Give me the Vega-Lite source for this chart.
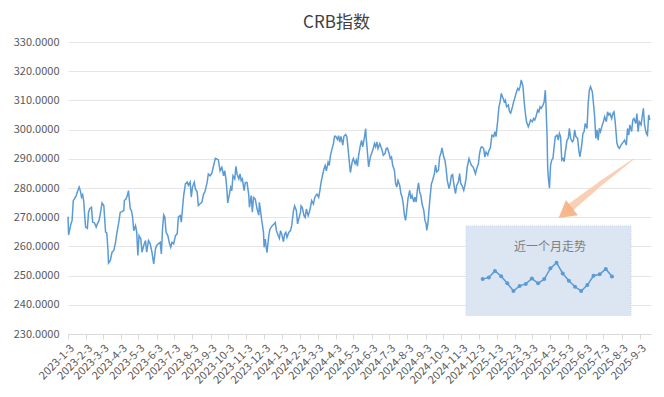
{
  "$schema": "https://vega.github.io/schema/vega-lite/v6.json",
  "autosize": {"type": "none"},
  "width": 583,
  "height": 292,
  "padding": {"left": 68, "top": 42, "right": 13, "bottom": 63},
  "background": "#ffffff",
  "title": {
    "text": "CRB指数",
    "font": "Noto Sans CJK SC",
    "fontSize": 17,
    "fontWeight": "normal",
    "color": "#404040",
    "anchor": "middle",
    "dx": -23,
    "offset": 4
  },
  "config": {
    "view": {"stroke": null},
    "font": "Noto Sans CJK SC"
  },
  "datasets": {
    "crb": [
      {"date":"2023-01-03","value":270.2},{"date":"2023-01-04","value":263.9},{"date":"2023-01-08","value":267.7},{"date":"2023-01-10","value":268.9},{"date":"2023-01-12","value":275.7},{"date":"2023-01-14","value":276.3},{"date":"2023-01-17","value":277.4},{"date":"2023-01-19","value":278.6},{"date":"2023-01-22","value":280.3},{"date":"2023-01-24","value":279.1},{"date":"2023-01-26","value":276.9},{"date":"2023-01-28","value":277.7},{"date":"2023-01-30","value":275.1},{"date":"2023-01-31","value":271.7},
      {"date":"2023-02-02","value":266.6},{"date":"2023-02-05","value":266.2},{"date":"2023-02-07","value":271.7},{"date":"2023-02-09","value":272.9},{"date":"2023-02-12","value":273.4},{"date":"2023-02-14","value":268.3},{"date":"2023-02-17","value":268.1},{"date":"2023-02-20","value":266.6},{"date":"2023-02-22","value":267.7},{"date":"2023-02-25","value":268.9},{"date":"2023-02-28","value":272.3},
      {"date":"2023-03-02","value":274.9},{"date":"2023-03-05","value":274.0},{"date":"2023-03-08","value":264.9},{"date":"2023-03-10","value":264.6},{"date":"2023-03-12","value":259.1},{"date":"2023-03-13","value":254.3},{"date":"2023-03-16","value":255.1},{"date":"2023-03-19","value":258.0},{"date":"2023-03-22","value":258.6},{"date":"2023-03-25","value":261.4},{"date":"2023-03-27","value":264.3},{"date":"2023-03-30","value":267.7},
      {"date":"2023-04-02","value":271.7},{"date":"2023-04-05","value":271.9},{"date":"2023-04-08","value":272.3},{"date":"2023-04-09","value":275.7},{"date":"2023-04-12","value":276.3},{"date":"2023-04-14","value":277.4},{"date":"2023-04-16","value":279.1},{"date":"2023-04-19","value":272.9},{"date":"2023-04-21","value":272.3},{"date":"2023-04-23","value":270.0},{"date":"2023-04-25","value":265.4},{"date":"2023-04-28","value":267.1},{"date":"2023-04-30","value":264.9},
      {"date":"2023-05-02","value":256.9},{"date":"2023-05-04","value":263.7},{"date":"2023-05-07","value":262.6},{"date":"2023-05-09","value":258.0},{"date":"2023-05-12","value":260.3},{"date":"2023-05-15","value":262.0},{"date":"2023-05-17","value":258.0},{"date":"2023-05-20","value":262.0},{"date":"2023-05-23","value":260.9},{"date":"2023-05-26","value":258.0},{"date":"2023-05-29","value":254.0},
      {"date":"2023-06-01","value":259.1},{"date":"2023-06-03","value":260.3},{"date":"2023-06-06","value":260.9},{"date":"2023-06-09","value":261.4},{"date":"2023-06-11","value":257.4},{"date":"2023-06-13","value":266.0},{"date":"2023-06-15","value":270.8},{"date":"2023-06-17","value":270.0},{"date":"2023-06-19","value":264.9},{"date":"2023-06-22","value":263.7},{"date":"2023-06-25","value":260.9},{"date":"2023-06-27","value":259.7},{"date":"2023-06-29","value":261.4},
      {"date":"2023-07-02","value":260.9},{"date":"2023-07-05","value":263.7},{"date":"2023-07-08","value":264.3},{"date":"2023-07-10","value":270.0},{"date":"2023-07-13","value":270.6},{"date":"2023-07-15","value":268.3},{"date":"2023-07-17","value":272.9},{"date":"2023-07-19","value":277.4},{"date":"2023-07-22","value":281.4},{"date":"2023-07-25","value":282.0},{"date":"2023-07-27","value":280.9},{"date":"2023-07-30","value":282.0},
      {"date":"2023-08-01","value":276.9},{"date":"2023-08-03","value":280.3},{"date":"2023-08-06","value":282.0},{"date":"2023-08-08","value":279.7},{"date":"2023-08-11","value":278.6},{"date":"2023-08-13","value":274.0},{"date":"2023-08-16","value":274.6},{"date":"2023-08-19","value":275.1},{"date":"2023-08-22","value":278.0},{"date":"2023-08-24","value":278.6},{"date":"2023-08-28","value":281.9},{"date":"2023-08-30","value":284.8},
      {"date":"2023-09-02","value":284.2},{"date":"2023-09-05","value":285.1},{"date":"2023-09-08","value":287.7},{"date":"2023-09-11","value":290.2},{"date":"2023-09-14","value":289.9},{"date":"2023-09-16","value":289.7},{"date":"2023-09-19","value":285.9},{"date":"2023-09-22","value":287.1},{"date":"2023-09-25","value":284.2},{"date":"2023-09-27","value":285.9},{"date":"2023-09-29","value":283.1},
      {"date":"2023-10-01","value":278.5},{"date":"2023-10-02","value":274.9},{"date":"2023-10-05","value":277.9},{"date":"2023-10-07","value":280.2},{"date":"2023-10-09","value":279.1},{"date":"2023-10-11","value":284.2},{"date":"2023-10-14","value":283.1},{"date":"2023-10-16","value":287.4},{"date":"2023-10-18","value":284.8},{"date":"2023-10-21","value":283.1},{"date":"2023-10-23","value":284.8},{"date":"2023-10-25","value":282.5},{"date":"2023-10-27","value":283.1},{"date":"2023-10-30","value":279.1},
      {"date":"2023-11-01","value":281.9},{"date":"2023-11-04","value":281.9},{"date":"2023-11-07","value":277.4},{"date":"2023-11-08","value":273.4},{"date":"2023-11-11","value":277.4},{"date":"2023-11-13","value":271.7},{"date":"2023-11-15","value":276.8},{"date":"2023-11-18","value":276.2},{"date":"2023-11-21","value":272.8},{"date":"2023-11-24","value":270.7},{"date":"2023-11-25","value":275.1},{"date":"2023-11-28","value":270.5},{"date":"2023-11-29","value":268.8},
      {"date":"2023-12-02","value":264.8},{"date":"2023-12-03","value":259.7},{"date":"2023-12-05","value":262.5},{"date":"2023-12-07","value":259.1},{"date":"2023-12-08","value":257.9},{"date":"2023-12-11","value":263.7},{"date":"2023-12-13","value":265.9},{"date":"2023-12-15","value":266.5},{"date":"2023-12-17","value":267.1},{"date":"2023-12-20","value":267.7},{"date":"2023-12-22","value":268.2},{"date":"2023-12-24","value":265.4},{"date":"2023-12-27","value":263.7},{"date":"2023-12-29","value":262.7},{"date":"2023-12-31","value":265.4},
      {"date":"2024-01-02","value":264.2},{"date":"2024-01-05","value":261.6},{"date":"2024-01-07","value":264.2},{"date":"2024-01-09","value":264.8},{"date":"2024-01-11","value":263.1},{"date":"2024-01-14","value":264.8},{"date":"2024-01-17","value":265.4},{"date":"2024-01-19","value":267.1},{"date":"2024-01-22","value":272.2},{"date":"2024-01-24","value":273.9},{"date":"2024-01-27","value":272.2},{"date":"2024-01-29","value":267.7},{"date":"2024-01-31","value":269.4},
      {"date":"2024-02-03","value":271.7},{"date":"2024-02-04","value":273.9},{"date":"2024-02-06","value":273.4},{"date":"2024-02-09","value":270.5},{"date":"2024-02-11","value":269.9},{"date":"2024-02-13","value":272.8},{"date":"2024-02-16","value":270.5},{"date":"2024-02-18","value":271.7},{"date":"2024-02-20","value":273.4},{"date":"2024-02-22","value":275.7},{"date":"2024-02-25","value":274.5},{"date":"2024-02-27","value":276.5},{"date":"2024-02-29","value":277.4},
      {"date":"2024-03-02","value":277.9},{"date":"2024-03-05","value":276.8},{"date":"2024-03-07","value":279.1},{"date":"2024-03-09","value":281.9},{"date":"2024-03-12","value":284.8},{"date":"2024-03-14","value":286.5},{"date":"2024-03-16","value":287.7},{"date":"2024-03-18","value":285.9},{"date":"2024-03-21","value":288.8},{"date":"2024-03-23","value":287.7},{"date":"2024-03-25","value":291.1},{"date":"2024-03-27","value":292.8},{"date":"2024-03-30","value":295.1},
      {"date":"2024-04-01","value":297.7},{"date":"2024-04-03","value":297.7},{"date":"2024-04-06","value":296.6},{"date":"2024-04-08","value":297.9},{"date":"2024-04-10","value":295.7},{"date":"2024-04-12","value":297.7},{"date":"2024-04-15","value":294.7},{"date":"2024-04-17","value":297.7},{"date":"2024-04-20","value":298.3},{"date":"2024-04-22","value":297.5},{"date":"2024-04-24","value":293.5},{"date":"2024-04-27","value":287.2},{"date":"2024-04-28","value":285.3},
      {"date":"2024-05-01","value":288.9},{"date":"2024-05-03","value":290.1},{"date":"2024-05-06","value":288.3},{"date":"2024-05-08","value":289.5},{"date":"2024-05-10","value":287.5},{"date":"2024-05-12","value":291.2},{"date":"2024-05-15","value":294.6},{"date":"2024-05-17","value":296.3},{"date":"2024-05-19","value":294.1},{"date":"2024-05-22","value":297.5},{"date":"2024-05-24","value":300.3},{"date":"2024-05-25","value":296.9},{"date":"2024-05-27","value":292.3},{"date":"2024-05-29","value":287.2},
      {"date":"2024-06-01","value":290.6},{"date":"2024-06-03","value":291.8},{"date":"2024-06-05","value":292.9},{"date":"2024-06-08","value":295.2},{"date":"2024-06-10","value":294.1},{"date":"2024-06-12","value":295.8},{"date":"2024-06-14","value":293.5},{"date":"2024-06-17","value":295.2},{"date":"2024-06-19","value":294.1},{"date":"2024-06-21","value":292.9},{"date":"2024-06-23","value":291.2},{"date":"2024-06-26","value":291.8},{"date":"2024-06-28","value":293.5},{"date":"2024-06-30","value":293.7},
      {"date":"2024-07-03","value":291.8},{"date":"2024-07-05","value":290.1},{"date":"2024-07-07","value":290.6},{"date":"2024-07-09","value":287.8},{"date":"2024-07-12","value":286.1},{"date":"2024-07-14","value":281.5},{"date":"2024-07-16","value":280.3},{"date":"2024-07-18","value":282.6},{"date":"2024-07-21","value":280.9},{"date":"2024-07-23","value":278.1},{"date":"2024-07-25","value":276.9},{"date":"2024-07-27","value":274.6},{"date":"2024-07-29","value":270.6},{"date":"2024-07-31","value":268.9},
      {"date":"2024-08-02","value":272.3},{"date":"2024-08-04","value":276.3},{"date":"2024-08-07","value":279.2},{"date":"2024-08-09","value":276.3},{"date":"2024-08-11","value":277.5},{"date":"2024-08-14","value":275.2},{"date":"2024-08-16","value":276.9},{"date":"2024-08-18","value":275.2},{"date":"2024-08-20","value":279.2},{"date":"2024-08-22","value":281.8},{"date":"2024-08-24","value":278.6},{"date":"2024-08-26","value":277.5},{"date":"2024-08-28","value":274.6},{"date":"2024-08-31","value":272.3},
      {"date":"2024-09-02","value":268.9},{"date":"2024-09-04","value":267.8},{"date":"2024-09-05","value":265.5},{"date":"2024-09-07","value":267.8},{"date":"2024-09-09","value":272.9},{"date":"2024-09-11","value":277.5},{"date":"2024-09-13","value":281.5},{"date":"2024-09-15","value":282.6},{"date":"2024-09-18","value":284.9},{"date":"2024-09-20","value":287.8},{"date":"2024-09-22","value":285.5},{"date":"2024-09-25","value":286.1},{"date":"2024-09-27","value":290.6},{"date":"2024-09-29","value":291.8},
      {"date":"2024-10-01","value":293.7},{"date":"2024-10-04","value":290.6},{"date":"2024-10-06","value":289.5},{"date":"2024-10-08","value":286.6},{"date":"2024-10-10","value":282.6},{"date":"2024-10-13","value":279.8},{"date":"2024-10-15","value":281.5},{"date":"2024-10-17","value":284.3},{"date":"2024-10-19","value":284.6},{"date":"2024-10-22","value":280.3},{"date":"2024-10-24","value":278.1},{"date":"2024-10-26","value":280.9},{"date":"2024-10-29","value":282.1},{"date":"2024-10-31","value":284.9},
      {"date":"2024-11-02","value":281.5},{"date":"2024-11-04","value":280.9},{"date":"2024-11-07","value":279.2},{"date":"2024-11-09","value":280.9},{"date":"2024-11-11","value":283.2},{"date":"2024-11-13","value":287.2},{"date":"2024-11-16","value":290.1},{"date":"2024-11-18","value":288.9},{"date":"2024-11-20","value":287.8},{"date":"2024-11-23","value":287.2},{"date":"2024-11-25","value":286.1},{"date":"2024-11-27","value":284.9},{"date":"2024-11-29","value":286.6},
      {"date":"2024-12-02","value":288.3},{"date":"2024-12-04","value":291.8},{"date":"2024-12-06","value":293.7},{"date":"2024-12-08","value":294.1},{"date":"2024-12-11","value":293.5},{"date":"2024-12-13","value":290.6},{"date":"2024-12-15","value":292.3},{"date":"2024-12-18","value":291.2},{"date":"2024-12-20","value":292.9},{"date":"2024-12-22","value":293.5},{"date":"2024-12-23","value":294.7},{"date":"2024-12-25","value":298.1},{"date":"2024-12-28","value":297.6},{"date":"2024-12-30","value":299.3},
      {"date":"2025-01-01","value":297.6},{"date":"2025-01-04","value":303.3},{"date":"2025-01-06","value":307.8},{"date":"2025-01-08","value":309.5},{"date":"2025-01-10","value":312.4},{"date":"2025-01-13","value":310.7},{"date":"2025-01-15","value":309.5},{"date":"2025-01-17","value":310.1},{"date":"2025-01-19","value":307.8},{"date":"2025-01-22","value":308.4},{"date":"2025-01-24","value":306.1},{"date":"2025-01-26","value":305.6},{"date":"2025-01-29","value":307.8},{"date":"2025-01-31","value":309.5},
      {"date":"2025-02-02","value":310.7},{"date":"2025-02-04","value":312.4},{"date":"2025-02-07","value":314.1},{"date":"2025-02-09","value":313.5},{"date":"2025-02-11","value":314.7},{"date":"2025-02-13","value":317.0},{"date":"2025-02-16","value":314.7},{"date":"2025-02-18","value":309.5},{"date":"2025-02-20","value":305.6},{"date":"2025-02-22","value":302.7},{"date":"2025-02-25","value":301.0},{"date":"2025-02-27","value":302.1},
      {"date":"2025-03-01","value":303.3},{"date":"2025-03-04","value":302.7},{"date":"2025-03-06","value":303.8},{"date":"2025-03-08","value":303.3},{"date":"2025-03-10","value":304.4},{"date":"2025-03-13","value":306.7},{"date":"2025-03-15","value":306.1},{"date":"2025-03-17","value":307.8},{"date":"2025-03-19","value":307.3},{"date":"2025-03-22","value":308.4},{"date":"2025-03-24","value":309.5},{"date":"2025-03-26","value":313.5},{"date":"2025-03-27","value":309.0},{"date":"2025-03-29","value":297.6},{"date":"2025-03-30","value":287.3},{"date":"2025-03-31","value":283.9},
      {"date":"2025-04-02","value":279.9},{"date":"2025-04-04","value":287.9},{"date":"2025-04-06","value":289.6},{"date":"2025-04-08","value":290.1},{"date":"2025-04-10","value":294.1},{"date":"2025-04-12","value":297.6},{"date":"2025-04-15","value":298.1},{"date":"2025-04-17","value":296.4},{"date":"2025-04-19","value":298.7},{"date":"2025-04-21","value":297.6},{"date":"2025-04-23","value":289.6},{"date":"2025-04-25","value":290.1},{"date":"2025-04-27","value":289.0},{"date":"2025-04-29","value":292.4},
      {"date":"2025-05-02","value":296.4},{"date":"2025-05-04","value":297.0},{"date":"2025-05-06","value":300.4},{"date":"2025-05-08","value":297.0},{"date":"2025-05-11","value":295.8},{"date":"2025-05-13","value":296.4},{"date":"2025-05-15","value":299.9},{"date":"2025-05-17","value":297.6},{"date":"2025-05-20","value":297.0},{"date":"2025-05-22","value":293.0},{"date":"2025-05-24","value":290.7},{"date":"2025-05-27","value":294.7},{"date":"2025-05-29","value":298.7},{"date":"2025-05-31","value":299.3},
      {"date":"2025-06-02","value":302.1},{"date":"2025-06-05","value":300.4},{"date":"2025-06-07","value":309.0},{"date":"2025-06-09","value":313.5},{"date":"2025-06-11","value":314.7},{"date":"2025-06-14","value":313.0},{"date":"2025-06-16","value":309.0},{"date":"2025-06-18","value":304.4},{"date":"2025-06-20","value":297.0},{"date":"2025-06-22","value":299.9},{"date":"2025-06-24","value":296.4},{"date":"2025-06-26","value":300.4},{"date":"2025-06-28","value":299.3},
      {"date":"2025-07-01","value":301.6},{"date":"2025-07-03","value":302.7},{"date":"2025-07-05","value":304.4},{"date":"2025-07-08","value":302.7},{"date":"2025-07-10","value":306.1},{"date":"2025-07-12","value":305.0},{"date":"2025-07-14","value":305.5},{"date":"2025-07-17","value":303.8},{"date":"2025-07-19","value":305.5},{"date":"2025-07-21","value":306.1},{"date":"2025-07-23","value":302.7},{"date":"2025-07-26","value":295.3},{"date":"2025-07-28","value":294.1},{"date":"2025-07-30","value":293.6},
      {"date":"2025-08-02","value":294.7},{"date":"2025-08-04","value":295.3},{"date":"2025-08-06","value":295.8},{"date":"2025-08-08","value":296.4},{"date":"2025-08-11","value":294.7},{"date":"2025-08-13","value":300.4},{"date":"2025-08-15","value":298.1},{"date":"2025-08-17","value":301.6},{"date":"2025-08-20","value":299.3},{"date":"2025-08-22","value":303.3},{"date":"2025-08-24","value":303.8},{"date":"2025-08-27","value":302.1},{"date":"2025-08-29","value":305.5},{"date":"2025-08-31","value":299.3},
      {"date":"2025-09-02","value":302.7},{"date":"2025-09-05","value":301.6},{"date":"2025-09-07","value":304.4},{"date":"2025-09-09","value":307.3},{"date":"2025-09-11","value":301.6},{"date":"2025-09-14","value":298.7},{"date":"2025-09-16","value":298.1},{"date":"2025-09-18","value":305.0},{"date":"2025-09-20","value":303.3}
    ],
    "box": [{"date": "2024-11-11", "date2": "2025-08-19", "value": 267.0, "value2": 236.3}],
    "label": [{"date": "2025-04-03", "value": 259.9, "t": "近一个月走势"}],
    "arrow": [
      {"date": "2025-08-23", "value": 289.9, "k": 1},
      {"date": "2025-06-27", "value": 281.4, "k": 2},
      {"date": "2025-05-07", "value": 273.2, "k": 3}
    ],
    "head": [{"date": "2025-04-29", "value": 271.5}],
    "inset": [
      {"i": 1, "v": 300.2}, {"i": 2, "v": 300.8}, {"i": 3, "v": 303.1}, {"i": 4, "v": 301.2},
      {"i": 5, "v": 298.7}, {"i": 6, "v": 296.0}, {"i": 7, "v": 297.8}, {"i": 8, "v": 298.5},
      {"i": 9, "v": 300.4}, {"i": 10, "v": 298.7}, {"i": 11, "v": 300.2}, {"i": 12, "v": 304.0},
      {"i": 13, "v": 306.0}, {"i": 14, "v": 302.2}, {"i": 15, "v": 299.6}, {"i": 16, "v": 297.5},
      {"i": 17, "v": 296.0}, {"i": 18, "v": 298.1}, {"i": 19, "v": 301.4}, {"i": 20, "v": 301.9},
      {"i": 21, "v": 303.8}, {"i": 22, "v": 301.1}
    ]
  },
  "layer": [
    {
      "data": {"name": "crb"},
      "mark": {"type": "line", "color": "#5b9bd5", "strokeWidth": 1.5, "interpolate": "linear"},
      "encoding": {
        "x": {
          "field": "date", "type": "temporal",
          "scale": {"type": "utc", "domain": [{"year": 2023, "month": 1, "date": 3, "utc": true}, {"year": 2025, "month": 9, "date": 22, "utc": true}], "nice": false},
          "axis": {
            "title": null,
            "labelExpr": "utcFormat(datum.value, '%Y-%-m-%-d')",
            "values": [
              {"year": 2023, "month": 1, "date": 3, "utc": true}, {"year": 2023, "month": 2, "date": 3, "utc": true}, {"year": 2023, "month": 3, "date": 3, "utc": true}, {"year": 2023, "month": 4, "date": 3, "utc": true}, {"year": 2023, "month": 5, "date": 3, "utc": true}, {"year": 2023, "month": 6, "date": 3, "utc": true}, {"year": 2023, "month": 7, "date": 3, "utc": true}, {"year": 2023, "month": 8, "date": 3, "utc": true}, {"year": 2023, "month": 9, "date": 3, "utc": true}, {"year": 2023, "month": 10, "date": 3, "utc": true}, {"year": 2023, "month": 11, "date": 3, "utc": true}, {"year": 2023, "month": 12, "date": 3, "utc": true},
              {"year": 2024, "month": 1, "date": 3, "utc": true}, {"year": 2024, "month": 2, "date": 3, "utc": true}, {"year": 2024, "month": 3, "date": 3, "utc": true}, {"year": 2024, "month": 4, "date": 3, "utc": true}, {"year": 2024, "month": 5, "date": 3, "utc": true}, {"year": 2024, "month": 6, "date": 3, "utc": true}, {"year": 2024, "month": 7, "date": 3, "utc": true}, {"year": 2024, "month": 8, "date": 3, "utc": true}, {"year": 2024, "month": 9, "date": 3, "utc": true}, {"year": 2024, "month": 10, "date": 3, "utc": true}, {"year": 2024, "month": 11, "date": 3, "utc": true}, {"year": 2024, "month": 12, "date": 3, "utc": true},
              {"year": 2025, "month": 1, "date": 3, "utc": true}, {"year": 2025, "month": 2, "date": 3, "utc": true}, {"year": 2025, "month": 3, "date": 3, "utc": true}, {"year": 2025, "month": 4, "date": 3, "utc": true}, {"year": 2025, "month": 5, "date": 3, "utc": true}, {"year": 2025, "month": 6, "date": 3, "utc": true}, {"year": 2025, "month": 7, "date": 3, "utc": true}, {"year": 2025, "month": 8, "date": 3, "utc": true}, {"year": 2025, "month": 9, "date": 3, "utc": true}
            ],
            "labelAngle": -45, "labelFontSize": 11, "labelColor": "#595959", "labelPadding": 3,
            "labelOverlap": false, "labelFlush": false, "labelBound": false,
            "grid": false, "domainColor": "#d9d9d9", "tickColor": "#d9d9d9", "tickSize": 5
          }
        },
        "y": {
          "field": "value", "type": "quantitative",
          "scale": {"domain": [230, 330], "zero": false, "nice": false},
          "axis": {
            "title": null, "format": ".4f",
            "values": [230, 240, 250, 260, 270, 280, 290, 300, 310, 320, 330],
            "domain": false, "ticks": false, "labelPadding": 9,
            "labelFontSize": 11, "labelColor": "#595959",
            "grid": true, "gridColor": "#e6e6e6", "gridWidth": 1
          }
        }
      }
    },
    {
      "data": {"name": "box"},
      "mark": {"type": "rect", "fill": "#dce6f2", "stroke": "#c8d7eb", "strokeDash": [1, 1], "strokeWidth": 1},
      "encoding": {
        "x": {"field": "date", "type": "temporal", "scale": {"type": "utc", "domain": [{"year": 2023, "month": 1, "date": 3, "utc": true}, {"year": 2025, "month": 9, "date": 22, "utc": true}], "nice": false}, "axis": null},
        "x2": {"field": "date2"},
        "y": {"field": "value", "type": "quantitative", "scale": {"domain": [230, 330], "zero": false, "nice": false}, "axis": null},
        "y2": {"field": "value2"}
      }
    },
    {
      "data": {"name": "label"},
      "mark": {"type": "text", "font": "Noto Sans CJK SC", "fontSize": 12, "color": "#7f7f7f", "align": "center", "baseline": "middle"},
      "encoding": {
        "x": {"field": "date", "type": "temporal", "scale": {"type": "utc", "domain": [{"year": 2023, "month": 1, "date": 3, "utc": true}, {"year": 2025, "month": 9, "date": 22, "utc": true}], "nice": false}, "axis": null},
        "y": {"field": "value", "type": "quantitative", "scale": {"domain": [230, 330], "zero": false, "nice": false}, "axis": null},
        "text": {"field": "t"}
      }
    },
    {
      "data": {"name": "arrow"},
      "mark": {"type": "trail", "color": "#f8cbad", "opacity": 0.9},
      "encoding": {
        "x": {"field": "date", "type": "temporal", "scale": {"type": "utc", "domain": [{"year": 2023, "month": 1, "date": 3, "utc": true}, {"year": 2025, "month": 9, "date": 22, "utc": true}], "nice": false}, "axis": null},
        "y": {"field": "value", "type": "quantitative", "scale": {"domain": [230, 330], "zero": false, "nice": false}, "axis": null},
        "order": {"field": "k"},
        "size": {"field": "k", "type": "quantitative", "scale": {"domain": [1, 3], "range": [1, 8]}, "legend": null}
      }
    },
    {
      "data": {"name": "head"},
      "mark": {"type": "point", "shape": "triangle-up", "filled": true, "color": "#f4b183", "opacity": 0.9, "size": 380, "angle": 232},
      "encoding": {
        "x": {"field": "date", "type": "temporal", "scale": {"type": "utc", "domain": [{"year": 2023, "month": 1, "date": 3, "utc": true}, {"year": 2025, "month": 9, "date": 22, "utc": true}], "nice": false}, "axis": null},
        "y": {"field": "value", "type": "quantitative", "scale": {"domain": [230, 330], "zero": false, "nice": false}, "axis": null}
      }
    },
    {
      "data": {"name": "inset"},
      "mark": {"type": "line", "color": "#5b9bd5", "strokeWidth": 1.5, "point": {"filled": true, "size": 16, "color": "#5b9bd5"}},
      "encoding": {
        "x": {"field": "i", "type": "quantitative", "scale": {"domain": [-66.35, 28.34], "zero": false, "nice": false}, "axis": null},
        "y": {"field": "v", "type": "quantitative", "scale": {"domain": [280.8, 384.0], "zero": false, "nice": false}, "axis": null}
      }
    }
  ],
  "resolve": {"scale": {"x": "independent", "y": "independent"}}
}
